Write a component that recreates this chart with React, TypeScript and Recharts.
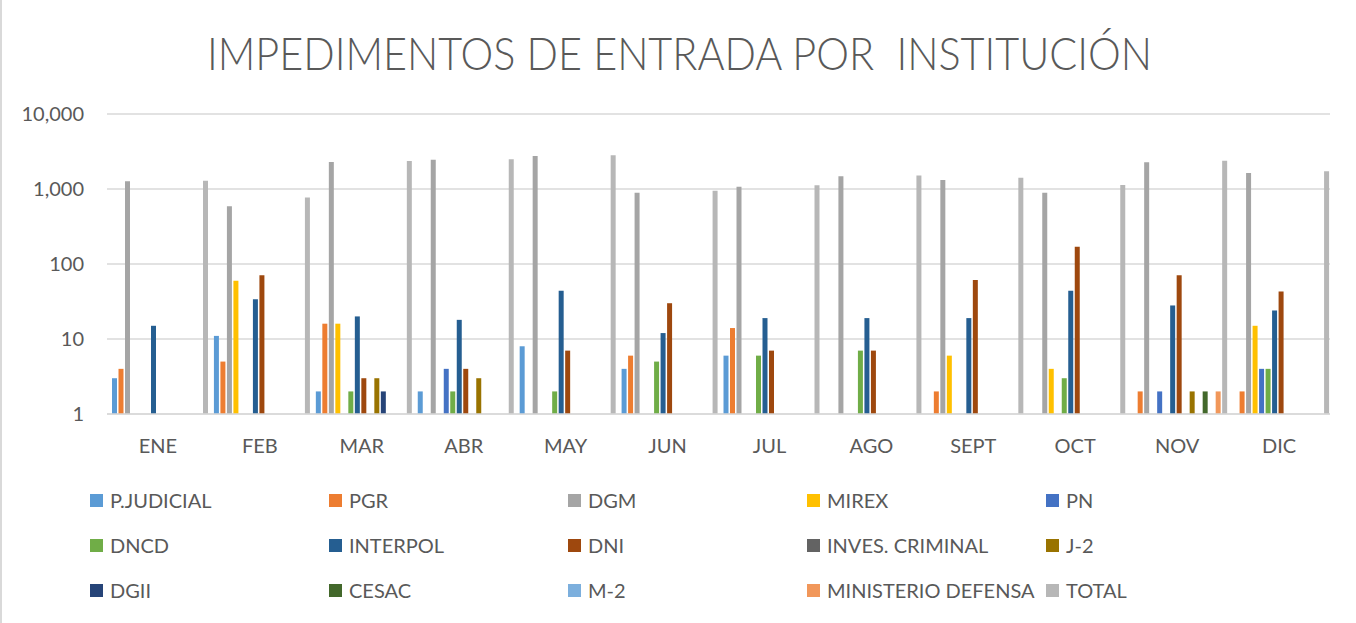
import { BarChart, Bar, XAxis, YAxis, CartesianGrid } from 'recharts';

const months = ['ENE', 'FEB', 'MAR', 'ABR', 'MAY', 'JUN', 'JUL', 'AGO', 'SEPT', 'OCT', 'NOV', 'DIC'];

const pJudicial = [3, 11, 2, 2, 8, 4, 6, null, null, null, null, null];
const pgr = [4, 5, 16, null, null, 6, 14, null, 2, null, 2, 2];
const dgm = [1270, 590, 2290, 2460, 2750, 890, 1070, 1480, 1320, 890, 2270, 1630];
const mirex = [null, 60, 16, null, null, null, null, null, 6, 4, null, 15];
const pn = [null, null, null, 4, null, null, null, null, null, null, 2, 4];
const dncd = [null, null, 2, 2, 2, 5, 6, 7, null, 3, null, 4];
const interpol = [15, 34, 20, 18, 44, 12, 19, 19, 19, 44, 28, 24];
const dni = [null, 71, 3, 4, 7, 30, 7, 7, 61, 170, 71, 43];
const invesCriminal = [null, null, null, null, null, null, null, null, null, null, null, null];
const j2 = [null, null, 3, 3, null, null, null, null, null, null, 2, null];
const dgii = [null, null, 2, null, null, null, null, null, null, null, null, null];
const cesac = [null, null, null, null, null, null, null, null, null, null, 2, null];
const m2 = [null, null, null, null, null, null, null, null, null, null, null, null];
const ministerioDefensa = [null, null, null, null, null, null, null, null, null, null, 2, null];
const total = [1292, 771, 2354, 2493, 2811, 947, 1122, 1513, 1408, 1130, 2379, 1722];

const yTicks = [1, 10, 100, 1000, 10000];

const series = [
  { key: 'pJudicial', name: 'P.JUDICIAL', color: '#5B9BD5', values: pJudicial },
  { key: 'pgr', name: 'PGR', color: '#ED7D31', values: pgr },
  { key: 'dgm', name: 'DGM', color: '#A5A5A5', values: dgm },
  { key: 'mirex', name: 'MIREX', color: '#FFC000', values: mirex },
  { key: 'pn', name: 'PN', color: '#4472C4', values: pn },
  { key: 'dncd', name: 'DNCD', color: '#70AD47', values: dncd },
  { key: 'interpol', name: 'INTERPOL', color: '#255E91', values: interpol },
  { key: 'dni', name: 'DNI', color: '#9E480E', values: dni },
  { key: 'invesCriminal', name: 'INVES. CRIMINAL', color: '#636363', values: invesCriminal },
  { key: 'j2', name: 'J-2', color: '#997300', values: j2 },
  { key: 'dgii', name: 'DGII', color: '#264478', values: dgii },
  { key: 'cesac', name: 'CESAC', color: '#43682B', values: cesac },
  { key: 'm2', name: 'M-2', color: '#7CAFDD', values: m2 },
  { key: 'ministerioDefensa', name: 'MINISTERIO DEFENSA', color: '#F1975A', values: ministerioDefensa },
  { key: 'total', name: 'TOTAL', color: '#B7B7B7', values: total },
];

const data = months.map((month, i) => {
  const row: Record<string, string | number | null> = { month };
  series.forEach((s) => {
    row[s.key] = s.values[i];
  });
  return row;
});

const textColor = '#595959';
const font = 'Lato, "Open Sans", sans-serif';

function ChartLegend() {
  return (
    <div style={{ position: 'absolute', left: 0, top: 0 }}>
      {series.map((s, i) => {
        const col = i % 5;
        const row = Math.floor(i / 5);
        return (
          <div
            key={s.key}
            style={{
              position: 'absolute',
              left: 90 + col * 239,
              top: 500 + row * 45 - 12,
              height: 24,
              display: 'flex',
              alignItems: 'center',
              whiteSpace: 'nowrap',
              fontFamily: font,
              fontSize: 20,
              color: textColor,
            }}
          >
            <span style={{ width: 13, height: 13, background: s.color, marginRight: 7, display: 'inline-block' }} />
            {s.name}
          </div>
        );
      })}
    </div>
  );
}

export default function App() {
  return (
    <div
      style={{
        position: 'fixed',
        left: 0,
        top: 0,
        width: 1356,
        height: 623,
        background: '#fff',
        overflow: 'hidden',
      }}
    >
      <div style={{ position: 'absolute', left: 0, top: 0, width: 2, height: 623, background: '#D9D9D9' }} />
      <svg width={1356} height={100} style={{ position: 'absolute', left: 0, top: 0 }}>
        <text
          x={207}
          y={70}
          textLength={945}
          lengthAdjust="spacingAndGlyphs"
          fontFamily={font}
          fontWeight={300}
          fontSize={46}
          fill={textColor}
          style={{ whiteSpace: 'pre' }}
        >
          {'IMPEDIMENTOS DE ENTRADA POR  INSTITUCIÓN'}
        </text>
      </svg>
      <div style={{ position: 'absolute', left: 0, top: 0 }}>
        <BarChart
          width={1356}
          height={623}
          data={data}
          margin={{ top: 114, right: 26, left: 0, bottom: 159 }}
          barCategoryGap={5}
          barGap={1.5}
        >
          <CartesianGrid vertical={false} stroke="#D9D9D9" strokeWidth={1.3} />
          <XAxis
            dataKey="month"
            height={50}
            axisLine={{ stroke: '#D9D9D9', strokeWidth: 1.5 }}
            tickLine={false}
            tickMargin={19}
            interval={0}
            tick={{ fill: textColor, fontSize: 20, fontFamily: font }}
          />
          <YAxis
            scale="log"
            domain={[1, 10000]}
            ticks={yTicks}
            width={107}
            axisLine={false}
            tickLine={false}
            tickMargin={17}
            allowDataOverflow
            tickFormatter={(v: number) => v.toLocaleString('en-US')}
            tick={{ fill: textColor, fontSize: 20, fontFamily: font }}
          />
          {series.map((s) => (
            <Bar
              key={s.key}
              dataKey={s.key}
              name={s.name}
              fill={s.color}
              isAnimationActive={false}
            />
          ))}
        </BarChart>
      </div>
      <ChartLegend />
    </div>
  );
}
